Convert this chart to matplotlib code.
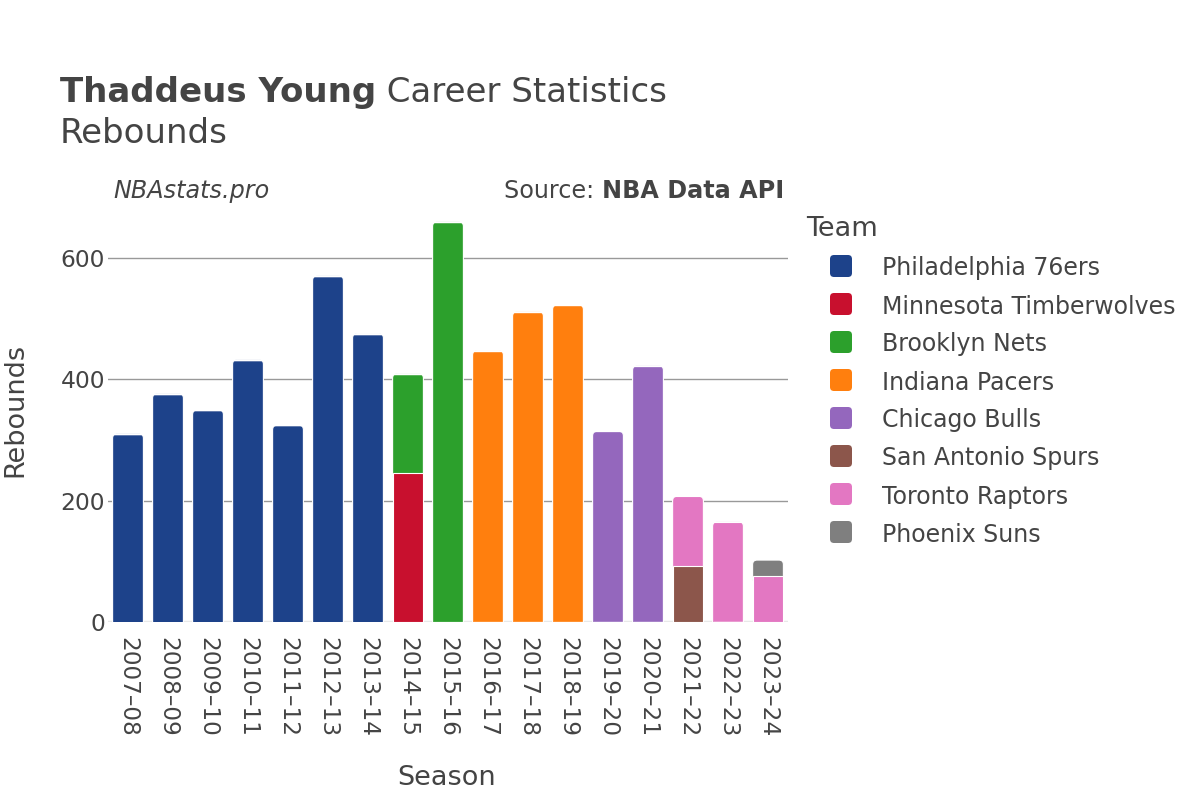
import matplotlib
matplotlib.use("Agg")
import matplotlib.pyplot as plt
from matplotlib.patches import FancyBboxPatch
import numpy as np

seasons = ["2007–08", "2008–09", "2009–10", "2010–11", "2011–12", "2012–13",
           "2013–14", "2014–15", "2015–16", "2016–17", "2017–18", "2018–19",
           "2019–20", "2020–21", "2021–22", "2022–23", "2023–24"]
teams = ["Philadelphia 76ers", "Minnesota Timberwolves", "Brooklyn Nets",
         "Indiana Pacers", "Chicago Bulls", "San Antonio Spurs",
         "Toronto Raptors", "Phoenix Suns"]
colors = ["#1d428a", "#c8102e", "#2ca02c", "#ff7f0e", "#9467bd",
          "#8c564b", "#e377c2", "#7f7f7f"]

phi = [310, 376, 349, 432, 324, 570, 475, 0, 0, 0, 0, 0, 0, 0, 0, 0, 0]
min_ = [0, 0, 0, 0, 0, 0, 0, 245, 0, 0, 0, 0, 0, 0, 0, 0, 0]
bkn = [0, 0, 0, 0, 0, 0, 0, 164, 659, 0, 0, 0, 0, 0, 0, 0, 0]
ind = [0, 0, 0, 0, 0, 0, 0, 0, 0, 447, 511, 522, 0, 0, 0, 0, 0]
chi = [0, 0, 0, 0, 0, 0, 0, 0, 0, 0, 0, 0, 314, 422, 0, 0, 0]
sas = [0, 0, 0, 0, 0, 0, 0, 0, 0, 0, 0, 0, 0, 0, 93, 0, 0]
tor = [0, 0, 0, 0, 0, 0, 0, 0, 0, 0, 0, 0, 0, 0, 114, 165, 75]
phx = [0, 0, 0, 0, 0, 0, 0, 0, 0, 0, 0, 0, 0, 0, 0, 0, 27]
series = [phi, min_, bkn, ind, chi, sas, tor, phx]

W, H = 1200, 800
fig = plt.figure(figsize=(12, 8), dpi=100)
TXT = "#444444"

ax_l, ax_r, ax_t, ax_b = 108, 788, 200, 622
ax = fig.add_axes([ax_l / W, 1 - ax_b / H, (ax_r - ax_l) / W, (ax_b - ax_t) / H])

x = np.arange(len(seasons))
bw = 0.77
ymax = 695
ax.set_xlim(-0.5, len(seasons) - 0.5)
ax.set_ylim(0, ymax)

# draw stacked bars
bottom = np.zeros(len(seasons))
containers = []
for vals, col in zip(series, colors):
    v = np.array(vals, dtype=float)
    bars = ax.bar(x, v, bw, bottom=bottom, color=col, edgecolor="white",
                  linewidth=0.8, zorder=3)
    containers.append((bars, v, bottom.copy(), col))
    bottom = bottom + v

# replace top segment of each stack with rounded-top patch
px_x = (ax_r - ax_l) / len(seasons)      # pixels per x-unit
px_y = (ax_b - ax_t) / ymax              # pixels per y-unit
aspect = (1 / px_y) / (1 / px_x)
r_px = 4.5
r_x = r_px / px_x
for i in range(len(seasons)):
    top_idx = max(k for k, (_, v, _, _) in enumerate(containers) if v[i] > 0)
    bars, v, b, col = containers[top_idx]
    patch = bars.patches[i]
    patch.set_visible(False)
    x0 = patch.get_x()
    w = patch.get_width()
    y0 = patch.get_y()
    h = patch.get_height()
    ext = r_px / px_y * 1.5
    fb = FancyBboxPatch((x0, y0 - ext), w, h + ext,
                        boxstyle=f"round,pad=0,rounding_size={r_x}",
                        mutation_aspect=aspect, facecolor=col,
                        edgecolor="white", linewidth=0.8, zorder=2)
    ax.add_patch(fb)

for s in ax.spines.values():
    s.set_visible(False)
ax.yaxis.grid(True, color="#999999", linewidth=1, zorder=0)
ax.axhline(0, color="#e8e8e8", linewidth=2.5, zorder=1)
ax.set_axisbelow(True)
ax.set_yticks([0, 200, 400, 600])
ax.tick_params(axis="y", length=0, pad=2, labelsize=16.8, labelcolor=TXT)
ax.set_xticks(x)
ax.set_xticklabels(seasons, rotation=-90, fontsize=16.7, color=TXT)
ax.tick_params(axis="x", length=0, pad=11)

fig.text(15 / W, 1 - 410 / H, "Rebounds", rotation=90, ha="center", va="center",
         fontsize=19.5, color=TXT)
fig.text(447 / W, 1 - 778 / H, "Season", ha="center", va="center",
         fontsize=19.5, color=TXT)

# titles
t1 = fig.text(60 / W, 1 - 101.7 / H, "Thaddeus Young", fontsize=24.5,
              fontweight="bold", color=TXT, va="baseline", ha="left")
fig.canvas.draw()
bb = t1.get_window_extent()
fig.text((bb.x1) / W, 1 - 101.7 / H, " Career Statistics", fontsize=24.5,
         color=TXT, va="baseline", ha="left")
fig.text(60 / W, 1 - 143 / H, "Rebounds", fontsize=24.5, color=TXT,
         va="baseline", ha="left")

fig.text(113 / W, 1 - 198 / H, "NBAstats.pro", fontsize=17.2, style="italic",
         color=TXT, va="baseline", ha="left")
s2 = fig.text(784 / W, 1 - 198 / H, "NBA Data API", fontsize=17.2,
              fontweight="bold", color=TXT, va="baseline", ha="right")
fig.canvas.draw()
bb2 = s2.get_window_extent()
fig.text(bb2.x0 / W, 1 - 198 / H, "Source: ", fontsize=17.2, color=TXT,
         va="baseline", ha="right")

# legend
fig.text(806 / W, 1 - 236 / H, "Team", fontsize=19.5, color=TXT,
         va="baseline", ha="left")
sq = 22
for k, (name, col) in enumerate(zip(teams, colors)):
    cy = 266 + 38 * k
    cx = 841
    p = FancyBboxPatch(((cx - sq / 2) / W, 1 - (cy + sq / 2) / H), sq / W, sq / H,
                       boxstyle=f"round,pad=0,rounding_size={4 / W}",
                       mutation_aspect=W / H, facecolor=col, edgecolor="none",
                       transform=fig.transFigure, figure=fig)
    fig.patches.append(p)
    fig.text(882 / W, 1 - cy / H, name, fontsize=17, color=TXT,
             va="center_baseline", ha="left")

fig.savefig("out.png", dpi=100)
